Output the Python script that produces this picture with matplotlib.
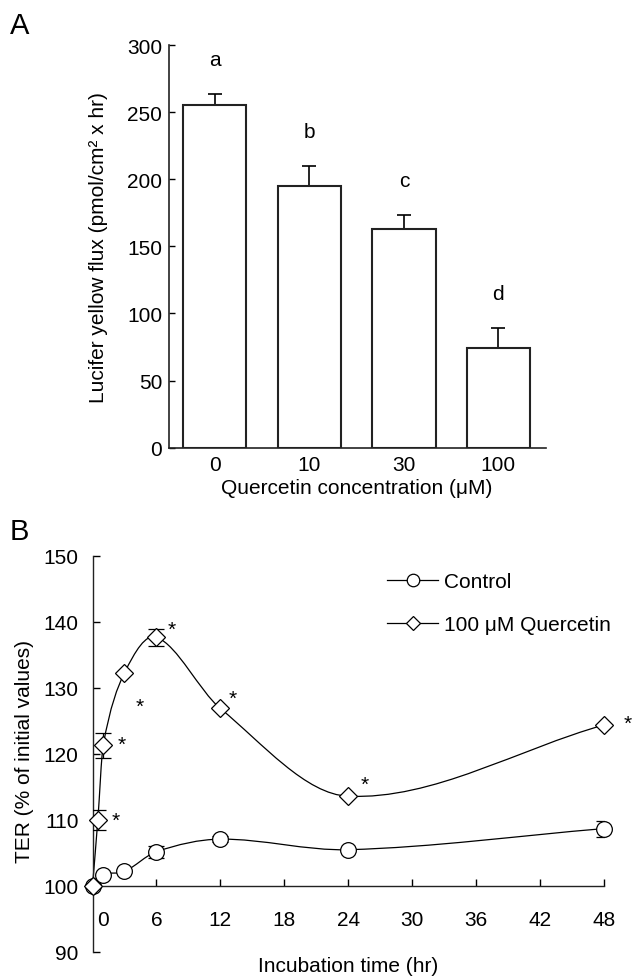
import numpy as np
import matplotlib
matplotlib.use('Agg')
import matplotlib.pyplot as plt
from matplotlib.path import Path
from matplotlib.patches import PathPatch
from matplotlib.lines import Line2D
from matplotlib.transforms import ScaledTranslation

plt.rcParams['font.family'] = ['Liberation Sans', 'DejaVu Sans']
plt.rcParams['font.size'] = 15

# ---- panel A: lucifer yellow flux vs quercetin concentration
conc_labels = ['0', '10', '30', '100']
flux = [255.3, 195.0, 163.0, 74.0]
flux_err = [8.0, 15.0, 10.0, 15.0]
sig_letters = ['a', 'b', 'c', 'd']

# ---- panel B: TER time course
ctrl_t = [0, 1, 3, 6, 12, 24, 48]
ctrl_ter = [100.0, 101.7, 102.2, 105.2, 107.1, 105.5, 108.7]
ctrl_err = [0, 0, 0, 0.9, 0.5, 0, 1.2]
q_t = [0, 0.5, 1, 3, 6, 12, 24, 48]
q_ter = [100.0, 110.0, 121.3, 132.3, 137.7, 126.9, 113.6, 124.4]
q_err = [0, 1.5, 1.9, 0, 1.3, 0, 0, 0]
q_star = [False, True, True, True, True, True, True, True]
time_ticks = [0, 6, 12, 18, 24, 30, 36, 42, 48]
ter_ticks = [90, 100, 110, 120, 130, 140, 150]

# where the asterisks sit relative to their point (points)
star_offsets = [None, (13, -4), (13, -3), (11, -28), (11, 1.5), (9, 3.5), (12, 4.5), (17, -3)]


def smooth_path(x, y):
    # cubic hermite through the points, drawn as bezier segments
    x = np.asarray(x, float)
    y = np.asarray(y, float)
    n = len(x)
    m = np.zeros(n)
    m[0] = (y[1] - y[0]) / (x[1] - x[0])
    m[-1] = (y[-1] - y[-2]) / (x[-1] - x[-2])
    for i in range(1, n - 1):
        m[i] = (y[i + 1] - y[i - 1]) / (x[i + 1] - x[i - 1])
    verts = [(x[0], y[0])]
    codes = [Path.MOVETO]
    for i in range(n - 1):
        h = x[i + 1] - x[i]
        verts += [(x[i] + h / 3, y[i] + m[i] * h / 3),
                  (x[i + 1] - h / 3, y[i + 1] - m[i + 1] * h / 3),
                  (x[i + 1], y[i + 1])]
        codes += [Path.CURVE4] * 3
    return Path(verts, codes)


W, H = 633, 979
fig = plt.figure(figsize=(W / 100, H / 100), dpi=100)

# ================= panel A
axA = fig.add_axes([169 / W, 1 - 448.7 / H, (545.5 - 169) / W, (448.7 - 46) / H])
xa = np.arange(len(flux))
axA.errorbar(xa, flux, yerr=[np.zeros(len(flux)), flux_err], fmt='none',
             ecolor='k', elinewidth=1.2, capsize=4.7, capthick=1.2, zorder=1)
axA.bar(xa, flux, width=0.67, color='white', edgecolor='#222222', linewidth=1.5, zorder=2)
for xi, v, e, s in zip(xa, flux, flux_err, sig_letters):
    axA.annotate(s, xy=(xi, v + e), xytext=(0, 21), textcoords='offset points',
                 ha='center', va='baseline', fontsize=15)
axA.set_xlim(-0.484, 3.498)
axA.set_ylim(0, 300)
axA.set_yticks(range(0, 301, 50))
axA.set_xticks(xa)
axA.set_xticklabels(conc_labels)
axA.tick_params(axis='y', direction='in', length=4.5, width=1, pad=5, labelsize=15)
axA.tick_params(axis='x', length=0, pad=5, labelsize=15)
for sp in ['top', 'right']:
    axA.spines[sp].set_visible(False)
for sp in ['left', 'bottom']:
    axA.spines[sp].set_linewidth(1.2)
    axA.spines[sp].set_color('#222222')
fig.text(99 / W, 1 - 248 / H, 'Lucifer yellow flux (pmol/cm² x hr)', rotation=90,
         ha='center', va='center', fontsize=15)
fig.text(357 / W, 1 - 489 / H, 'Quercetin concentration (μM)', ha='center', va='center',
         fontsize=15)
fig.text(19.5 / W, 1 - 26 / H, 'A', ha='center', va='center', fontsize=21)

# ================= panel B
axB = fig.add_axes([92.5 / W, 1 - 953 / H, (604 - 92.5) / W, (953 - 557) / H])
axB.add_patch(PathPatch(smooth_path(ctrl_t, ctrl_ter), fill=False, lw=0.9, ec='k',
                        zorder=2, clip_on=False))
axB.add_patch(PathPatch(smooth_path(q_t, q_ter), fill=False, lw=0.9, ec='k',
                        zorder=2, clip_on=False))

ce = np.array(ctrl_err)
cm = ce > 0
axB.errorbar(np.array(ctrl_t)[cm], np.array(ctrl_ter)[cm], yerr=ce[cm], fmt='none',
             ecolor='k', elinewidth=0.9, capsize=5.5, capthick=0.9, zorder=3)
qe = np.array(q_err)
qm = qe > 0
axB.errorbar(np.array(q_t)[qm], np.array(q_ter)[qm], yerr=qe[qm], fmt='none',
             ecolor='k', elinewidth=0.9, capsize=5.5, capthick=0.9, zorder=3)

axB.plot(ctrl_t, ctrl_ter, ls='none', marker='o', ms=11.3, mfc='white', mec='k',
         mew=0.9, zorder=4, clip_on=False)
axB.plot(q_t, q_ter, ls='none', marker='D', ms=9, mfc='white', mec='k',
         mew=0.9, zorder=5, clip_on=False)

for t, v, st, off in zip(q_t, q_ter, q_star, star_offsets):
    if st:
        axB.annotate('*', xy=(t, v), xytext=off, textcoords='offset points',
                     ha='center', va='baseline', fontsize=15, annotation_clip=False)

axB.set_xlim(0, 48)
axB.set_ylim(90, 150)
axB.set_xticks(time_ticks)
axB.set_yticks(ter_ticks)
axB.spines['bottom'].set_position(('data', 100))
for sp in ['top', 'right']:
    axB.spines[sp].set_visible(False)
for sp in ['left', 'bottom']:
    axB.spines[sp].set_linewidth(1.0)
    axB.spines[sp].set_color('#222222')
axB.tick_params(axis='x', direction='in', length=4.8, width=1, pad=17, labelsize=15)
axB.tick_params(axis='y', direction='in', length=4.8, width=1, pad=10, labelsize=15)
# the "0" label sits a little right of the axis
lab0 = axB.get_xticklabels()[0]
lab0.set_transform(lab0.get_transform() + ScaledTranslation(0.11, 0, fig.dpi_scale_trans))

handles = [Line2D([], [], color='k', lw=0.9, marker='o', ms=9, mfc='white', mec='k', mew=0.9),
           Line2D([], [], color='k', lw=0.9, marker='D', ms=7, mfc='white', mec='k', mew=0.9)]
axB.legend(handles, ['Control', '100 μM Quercetin'], loc='upper left',
           bbox_to_anchor=(387 / W, 1 - 573 / H), bbox_transform=fig.transFigure,
           frameon=False, borderpad=0, borderaxespad=0, handlelength=2.45,
           handletextpad=0.3, labelspacing=1.15, fontsize=15)

fig.text(24 / W, 1 - 752 / H, 'TER (% of initial values)', rotation=90,
         ha='center', va='center', fontsize=15)
fig.text(348 / W, 1 - 967 / H, 'Incubation time (hr)', ha='center', va='center', fontsize=15)
fig.text(19.5 / W, 1 - 532 / H, 'B', ha='center', va='center', fontsize=21)

fig.savefig('out.png', dpi=100)
